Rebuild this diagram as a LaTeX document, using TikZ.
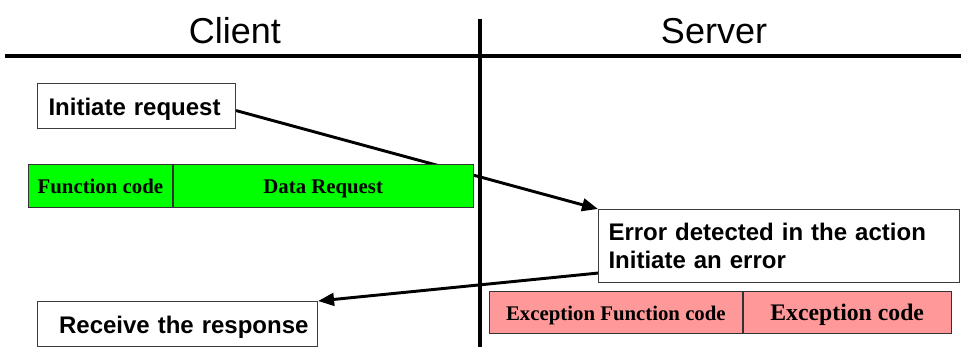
\documentclass[tikz,border=0pt]{standalone}
\usepackage{fontspec}
\setmainfont{Liberation Sans}
\newfontfamily\timesfont{Liberation Serif}
\usepackage{tikz}
\usetikzlibrary{arrows.meta, positioning, backgrounds}
\usepackage{xcolor}
\definecolor{framegreen}{RGB}{0,255,0}
\definecolor{framepink}{RGB}{255,153,153}
\definecolor{boxgray}{RGB}{60,60,60}

\begin{document}
\begin{tikzpicture}[x=0.75pt, y=-0.75pt,
  title/.style={font=\fontsize{27}{32}\selectfont, anchor=base},
  msgbox/.style={rectangle, draw=boxgray, line width=0.8pt, fill=white,
                 anchor=north west, minimum height=33.75pt,
                 font=\fontsize{18}{21}\selectfont\bfseries},
  onerow/.style={text height=15pt, text depth=1.5pt},
  cell/.style={rectangle, draw=black!80, line width=0.6pt, anchor=north west,
               inner sep=0pt, font=\fontsize{15.6}{18}\selectfont\bfseries\timesfont},
  greencell/.style={cell, fill=framegreen, minimum height=32.25pt,
                    text height=13pt, text depth=1.8pt},
  pinkcell/.style={cell, fill=framepink, minimum height=31.5pt,
                   text height=13.5pt, text depth=1.5pt},
  divider/.style={line width=3pt, black},
  msg/.style={-{Triangle[length=12pt, width=9.5pt]}, line width=2.2pt, black}
]
\useasboundingbox (0,0) rectangle (961,347);

% headings and the two sides
\node[title] (client) at (235,43) {Client};
\node[title] (server) at (714,43) {Server};
\draw[divider] (5,56) -- (961,56);
\draw[divider] (480,19) -- (480,347);

% client side
\node[msgbox, onerow, text width=132pt, inner xsep=8.25pt, align=left] (init) at (37,83) {Initiate request};
\node[greencell, minimum width=108pt] (fcode) at (28,164) {Function code};
\node[greencell, minimum width=225pt] (dreq) at (fcode.north east) {Data Request};
\node[msgbox, onerow, text width=196.5pt, inner xsep=6.75pt, align=right] (recv) at (37,301) {Receive the response};

% server side
\node[msgbox, text width=255.75pt, inner xsep=7.5pt, align=left, minimum height=54.75pt] (err) at (598,209)
  {Error detected in the action\\Initiate an error};
\node[pinkcell, minimum width=189.75pt] (efcode) at (489,291) {Exception Function code};
\node[pinkcell, minimum width=156pt, font=\fontsize{17.8}{20}\selectfont\bfseries\timesfont] (ecode) at (efcode.north east) {Exception code};

% request and error response
\begin{scope}[on background layer]
\draw[msg] ([yshift=-3.4pt]init.east) -- (err.north west);
\draw[msg] ([yshift=7.5pt]err.south west) -- (recv.north east);
\end{scope}

\end{tikzpicture}
\end{document}
